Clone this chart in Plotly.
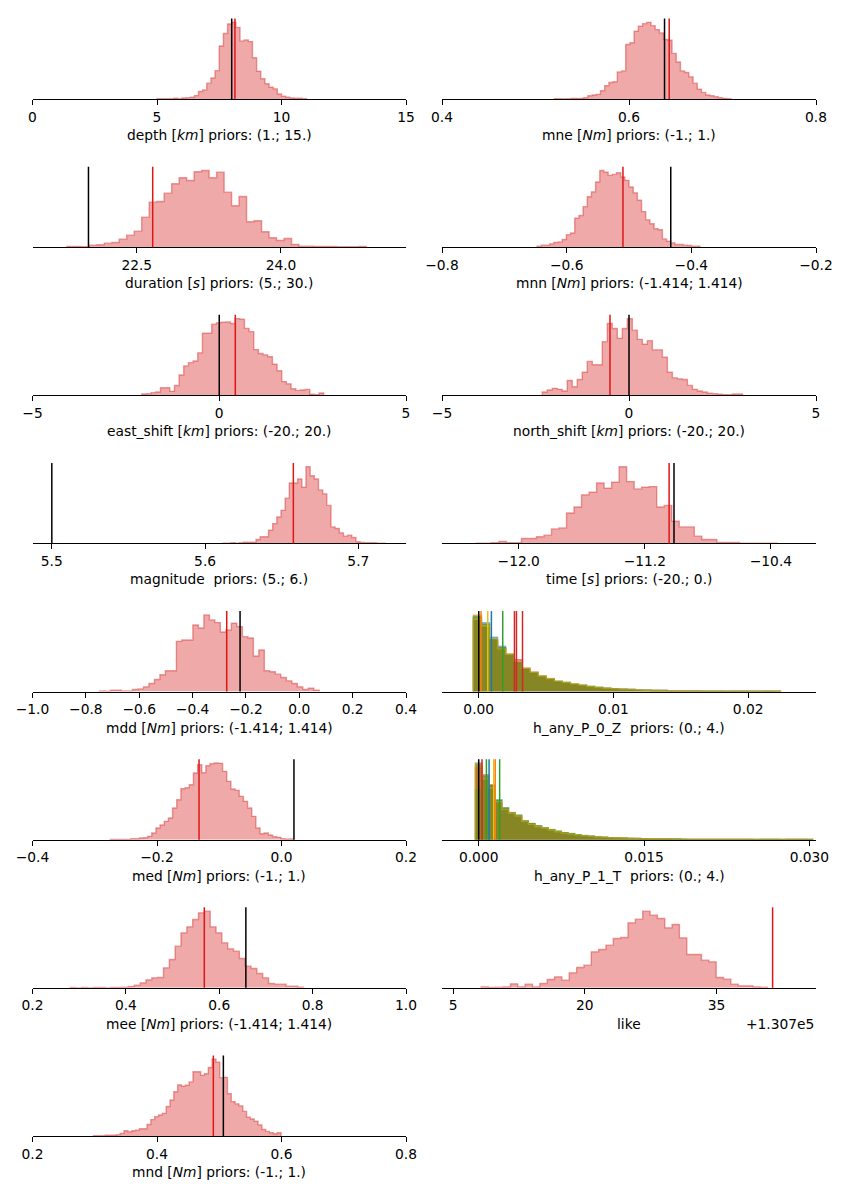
import plotly.graph_objects as go

# ------------------------------------------------------------------ data
depth_start, depth_width = 5.0, 0.1667
depth_counts = [1, 1, 1, 1, 2, 1, 3, 4, 5, 10, 22, 27, 47, 62, 84, 157, 194, 222, 227, 212,
                172, 175, 170, 122, 82, 60, 45, 35, 30, 15, 8, 5, 3, 2, 2, 1]
depth_ref, depth_best = 8.0, 8.13

mne_start, mne_width = 0.52, 0.0045
mne_counts = [1, 1, 0.5, 1, 2, 2, 2, 4, 10, 12, 14, 25, 40, 50, 52, 82, 85, 165, 170, 205, 220,
              228, 232, 222, 210, 200, 180, 178, 138, 112, 85, 80, 67, 48, 30, 20, 12, 10, 7, 4, 2, 1]
mne_ref, mne_best = 0.638, 0.643

duration_start, duration_width = 21.7726, 0.0779
duration_counts = [2, 2, 1, 6, 7, 12, 14, 24, 36, 48, 90, 135, 137, 162, 190, 208, 200, 226, 230, 208,
                   225, 165, 124, 152, 76, 79, 46, 28, 20, 26, 8, 3, 3, 2, 2, 2, 1, 1, 1, 2]
duration_ref, duration_best = 21.998, 22.666

mnn_start, mnn_width = -0.6473, 0.006696
mnn_counts = [3, 6, 6, 10, 14, 16, 23, 38, 43, 88, 96, 123, 153, 168, 198, 233, 228, 218, 221, 226,
              213, 203, 183, 165, 143, 108, 83, 71, 56, 53, 25, 18, 13, 8, 8, 6, 5, 3, 3]
mnn_ref, mnn_best = -0.433, -0.5097

east_start, east_width = -2.074, 0.1249
east_counts = [4, 5, 8, 10, 23, 23, 12, 30, 62, 90, 100, 105, 130, 190, 190, 218, 222, 224, 225, 220,
               235, 233, 205, 195, 140, 128, 124, 118, 95, 75, 42, 35, 20, 15, 16, 18, 3, 2, 7]
east_ref, east_best = 0.0, 0.43

north_start, north_width = -2.321, 0.1339
north_counts = [10, 16, 21, 18, 13, 45, 26, 48, 70, 103, 93, 93, 163, 218, 203, 173, 203, 233, 198, 170,
                155, 166, 138, 138, 116, 70, 53, 50, 48, 30, 18, 13, 10, 6, 5, 3, 2, 2, 4, 4]
north_ref, north_best = 0.0, -0.508

mag_start, mag_width = 5.6115, 0.002717
mag_counts = [1, 1, 2, 1, 2, 4, 4, 4, 12, 20, 20, 40, 60, 80, 100, 137, 183, 183, 195, 170,
              232, 205, 195, 162, 150, 115, 50, 45, 32, 22, 25, 18, 5, 3, 2, 2, 2, 1, 1]
mag_ref, mag_best = 5.5, 5.6576

time_start, time_width = -12.269, 0.04768
time_counts = [1, 1, 2, 6, 2, 2, 15, 15, 20, 25, 44, 47, 92, 110, 147, 155, 183, 167, 185, 232,
               187, 165, 170, 172, 110, 115, 67, 50, 50, 22, 12, 12, 3, 3, 3, 1, 1, 1, 1, 1]
time_ref, time_best = -11.015, -11.046

mdd_start, mdd_width = -0.749, 0.0206
mdd_counts = [2, 1, 4, 4, 2, 2, 6, 8, 14, 24, 36, 50, 62, 62, 150, 154, 154, 199, 190, 229,
              214, 206, 178, 184, 204, 194, 164, 160, 106, 124, 62, 59, 52, 42, 32, 24, 14, 6, 10, 4]
mdd_ref, mdd_best = -0.222, -0.272

med_start, med_width = -0.2753, 0.00669
med_counts = [1, 1, 1, 1, 1, 3, 3, 5, 6, 10, 20, 35, 44, 55, 65, 95, 120, 153, 156, 165,
              200, 225, 201, 222, 228, 230, 229, 205, 175, 152, 148, 130, 115, 95, 70, 35, 18, 20, 14, 9,
              7, 3, 2, 2]
med_ref, med_best = 0.020, -0.1325

mee_start, mee_width = 0.2806, 0.0125
mee_counts = [1, 0, 1, 0, 1, 1, 0, 1, 1, 2, 4, 8, 15, 24, 30, 31, 60, 85, 125, 165,
              183, 205, 225, 230, 183, 165, 135, 117, 110, 88, 65, 58, 43, 30, 13, 11, 11, 5, 5, 2]
mee_ref, mee_best = 0.657, 0.568

mnd_start, mnd_width = 0.2979, 0.00615
mnd_counts = [1, 1, 1, 2, 2, 2, 4, 8, 16, 13, 16, 18, 22, 22, 35, 50, 59, 64, 69, 90,
              110, 135, 156, 152, 155, 165, 196, 196, 185, 190, 209, 234, 225, 178, 179, 129, 105, 98, 92, 75,
              57, 52, 45, 34, 20, 14, 10, 7, 10]
mnd_ref, mnd_best = 0.5066, 0.4905

like_start, like_width = 8.194, 0.8365
like_counts = [3, 1, 2, 3, 12, 3, 11, 3, 13, 25, 33, 23, 45, 61, 68, 108, 115, 128, 148, 151,
               195, 206, 230, 218, 208, 180, 190, 150, 100, 100, 83, 78, 31, 26, 11, 6, 6, 3, 2]
like_best = 41.39
like_offset_text = "+1.307e5"

p0z_start, p0z_width = -0.0004, 0.0006
p0z_blue = [220, 205, 162, 135, 105, 85, 66, 55, 45, 37, 31, 26, 22, 18, 15, 12, 10, 8, 7, 6,
            5, 4, 3, 3, 2, 2, 2, 1, 1, 1, 1, 1, 1, 1, 0, 1, 1, 0]
p0z_red = [212, 192, 150, 130, 112, 95, 70, 58, 46, 38, 30, 27, 21, 19, 14, 12, 9, 8, 7, 6,
           4, 4, 3, 3, 2, 2, 1, 2, 1, 1, 1, 0, 1, 1, 1, 0, 1, 1]
p0z_orange = [228, 198, 152, 126, 108, 86, 68, 57, 47, 39, 29, 26, 22, 18, 15, 11, 10, 8, 6, 5,
              5, 4, 3, 2, 2, 2, 2, 1, 1, 1, 1, 1, 0, 1, 1, 1, 0, 1]
p0z_green = [224, 200, 155, 130, 110, 87, 67, 56, 45, 37, 30, 27, 22, 19, 15, 12, 10, 8, 7, 6,
             5, 4, 3, 3, 2, 2, 2, 2, 1, 1, 1, 1, 1, 1, 1, 1, 1, 1]
p0z_yellow = [215, 195, 158, 127, 111, 89, 69, 57, 46, 38, 31, 27, 23, 19, 15, 12, 10, 8, 7, 6,
              5, 4, 3, 3, 2, 2, 2, 1, 1, 1, 1, 1, 1, 1, 1, 0, 1, 0]
p0z_lines = [0.00017, 0.00067, 0.00094, 0.00178, 0.00265, 0.0028, 0.00325]
p0z_ref = 0.0

p1t_start, p1t_width = -0.0003, 0.0006
p1t_blue = [230, 180, 160, 118, 95, 78, 70, 55, 47, 40, 34, 30, 25, 20, 18, 14, 12, 10, 8, 7,
            6, 5, 5, 4, 4, 3, 2, 2, 2, 2, 2, 1, 1, 1, 1, 1, 1, 1, 1, 1, 1, 1, 1, 1, 1, 1, 1, 1, 1, 1, 1]
p1t_red = [215, 195, 165, 112, 92, 80, 73, 56, 48, 41, 35, 29, 24, 20, 17, 14, 11, 10, 8, 7,
           6, 5, 4, 4, 3, 3, 2, 2, 2, 2, 1, 1, 1, 1, 1, 1, 1, 1, 1, 1, 1, 1, 0, 1, 1, 1, 0, 1, 1, 1, 1]
p1t_orange = [225, 185, 158, 115, 93, 82, 72, 54, 48, 40, 35, 30, 25, 21, 18, 13, 12, 10, 8, 7,
              6, 5, 5, 4, 4, 3, 3, 2, 2, 2, 2, 1, 1, 1, 1, 1, 1, 1, 1, 1, 1, 1, 1, 1, 1, 1, 1, 1, 1, 1, 0]
p1t_green = [150, 190, 162, 120, 96, 81, 74, 57, 49, 42, 36, 31, 26, 21, 19, 15, 13, 11, 9, 8,
             6, 6, 5, 4, 4, 3, 2, 2, 2, 2, 2, 2, 1, 1, 1, 1, 1, 1, 1, 1, 1, 1, 1, 1, 1, 1, 1, 1, 1, 1, 1]
p1t_yellow = [228, 182, 155, 114, 91, 79, 71, 55, 46, 39, 34, 29, 24, 19, 17, 14, 12, 10, 8, 7,
              6, 5, 5, 4, 3, 3, 2, 2, 2, 2, 1, 1, 1, 1, 1, 1, 1, 1, 1, 1, 1, 1, 1, 1, 1, 1, 1, 1, 1, 1, 1]
p1t_lines = [0.0003, 0.0007, 0.00094, 0.00136, 0.0015, 0.0019]
p1t_ref = 0.0

# ------------------------------------------------------------------ style
FONT = "DejaVu Sans"
FS = 13.8
HIST_FILL = "rgba(214,39,40,0.4)"
HIST_EDGE = "rgba(214,39,40,0.45)"
RED_LINE = "rgb(222,22,22)"
C_BLUE, C_ORANGE, C_GREEN, C_RED, C_YELLOW = "#1f77b4", "#ff7f0e", "#2ca02c", "#d62728", "#e3c414"
F_OLIVE = "#8a7f10"


def rgba(hexc, a):
    h = hexc.lstrip("#")
    return "rgba(%d,%d,%d,%s)" % (int(h[0:2], 16), int(h[2:4], 16), int(h[4:6], 16), a)


def multi(blue, red, orange, green, yellow):
    return [(blue, rgba(C_BLUE, 0.5), rgba(C_BLUE, 0.45)),
            (red, rgba(C_RED, 0.5), rgba(C_RED, 0.45)),
            (orange, rgba(C_ORANGE, 0.5), rgba(C_ORANGE, 0.45)),
            (green, rgba(C_GREEN, 0.5), rgba(C_GREEN, 0.45)),
            (yellow, rgba(F_OLIVE, 0.5), rgba(C_YELLOW, 0.4))]


M = "\u2212"
panels = [
    # col, row, title, start, width, [(counts, fill, edge)], lines[(x,color)], range, tickvals, ticktext
    (0, 0, "depth [<i>km</i>] priors: (1.; 15.)", depth_start, depth_width,
     [(depth_counts, HIST_FILL, HIST_EDGE)], [(depth_ref, "black"), (depth_best, RED_LINE)],
     [0, 15], [0, 5, 10, 15], ["0", "5", "10", "15"]),
    (0, 1, "duration [<i>s</i>] priors: (5.; 30.)", duration_start, duration_width,
     [(duration_counts, HIST_FILL, HIST_EDGE)], [(duration_ref, "black"), (duration_best, RED_LINE)],
     [21.416, 25.30], [22.5, 24.0], ["22.5", "24.0"]),
    (0, 2, "east_shift [<i>km</i>] priors: (-20.; 20.)", east_start, east_width,
     [(east_counts, HIST_FILL, HIST_EDGE)], [(east_ref, "black"), (east_best, RED_LINE)],
     [-5, 5], [-5, 0, 5], [M + "5", "0", "5"]),
    (0, 3, "magnitude\u00a0 priors: (5.; 6.)", mag_start, mag_width,
     [(mag_counts, HIST_FILL, HIST_EDGE)], [(mag_ref, "black"), (mag_best, RED_LINE)],
     [5.4874, 5.7311], [5.5, 5.6, 5.7], ["5.5", "5.6", "5.7"]),
    (0, 4, "mdd [<i>Nm</i>] priors: (-1.414; 1.414)", mdd_start, mdd_width,
     [(mdd_counts, HIST_FILL, HIST_EDGE)], [(mdd_ref, "black"), (mdd_best, RED_LINE)],
     [-1.0, 0.4], [-1.0, -0.8, -0.6, -0.4, -0.2, 0.0, 0.2, 0.4],
     [M + "1.0", M + "0.8", M + "0.6", M + "0.4", M + "0.2", "0.0", "0.2", "0.4"]),
    (0, 5, "med [<i>Nm</i>] priors: (-1.; 1.)", med_start, med_width,
     [(med_counts, HIST_FILL, HIST_EDGE)], [(med_ref, "black"), (med_best, RED_LINE)],
     [-0.4, 0.2], [-0.4, -0.2, 0.0, 0.2], [M + "0.4", M + "0.2", "0.0", "0.2"]),
    (0, 6, "mee [<i>Nm</i>] priors: (-1.414; 1.414)", mee_start, mee_width,
     [(mee_counts, HIST_FILL, HIST_EDGE)], [(mee_ref, "black"), (mee_best, RED_LINE)],
     [0.2, 1.0], [0.2, 0.4, 0.6, 0.8, 1.0], ["0.2", "0.4", "0.6", "0.8", "1.0"]),
    (0, 7, "mnd [<i>Nm</i>] priors: (-1.; 1.)", mnd_start, mnd_width,
     [(mnd_counts, HIST_FILL, HIST_EDGE)], [(mnd_ref, "black"), (mnd_best, RED_LINE)],
     [0.2, 0.8], [0.2, 0.4, 0.6, 0.8], ["0.2", "0.4", "0.6", "0.8"]),
    (1, 0, "mne [<i>Nm</i>] priors: (-1.; 1.)", mne_start, mne_width,
     [(mne_counts, HIST_FILL, HIST_EDGE)], [(mne_ref, "black"), (mne_best, RED_LINE)],
     [0.4, 0.8], [0.4, 0.6, 0.8], ["0.4", "0.6", "0.8"]),
    (1, 1, "mnn [<i>Nm</i>] priors: (-1.414; 1.414)", mnn_start, mnn_width,
     [(mnn_counts, HIST_FILL, HIST_EDGE)], [(mnn_ref, "black"), (mnn_best, RED_LINE)],
     [-0.8, -0.2], [-0.8, -0.6, -0.4, -0.2], [M + "0.8", M + "0.6", M + "0.4", M + "0.2"]),
    (1, 2, "north_shift [<i>km</i>] priors: (-20.; 20.)", north_start, north_width,
     [(north_counts, HIST_FILL, HIST_EDGE)], [(north_ref, "black"), (north_best, RED_LINE)],
     [-5, 5], [-5, 0, 5], [M + "5", "0", "5"]),
    (1, 3, "time [<i>s</i>] priors: (-20.; 0.)", time_start, time_width,
     [(time_counts, HIST_FILL, HIST_EDGE)], [(time_best, RED_LINE), (time_ref, "black")],
     [-12.487, -10.114], [-12.0, -11.2, -10.4], [M + "12.0", M + "11.2", M + "10.4"]),
    (1, 4, "h_any_P_0_Z\u00a0 priors: (0.; 4.)", p0z_start, p0z_width,
     multi(p0z_blue, p0z_red, p0z_orange, p0z_green, p0z_yellow),
     [(p0z_lines[0], C_ORANGE), (p0z_lines[1], C_YELLOW), (p0z_lines[2], C_BLUE),
      (p0z_lines[3], C_GREEN), (p0z_lines[4], C_RED), (p0z_lines[5], C_RED),
      (p0z_lines[6], C_RED), (p0z_ref, "black")],
     [-0.002726, 0.02503], [0.0, 0.01, 0.02], ["0.00", "0.01", "0.02"]),
    (1, 5, "h_any_P_1_T\u00a0 priors: (0.; 4.)", p1t_start, p1t_width,
     multi(p1t_blue, p1t_red, p1t_orange, p1t_green, p1t_yellow),
     [(p1t_lines[0], C_RED), (p1t_lines[1], C_GREEN), (p1t_lines[2], C_BLUE),
      (p1t_lines[3], C_YELLOW), (p1t_lines[4], C_ORANGE), (p1t_lines[5], C_GREEN),
      (p1t_ref, "black")],
     [-0.00333, 0.0306], [0.0, 0.015, 0.030], ["0.000", "0.015", "0.030"]),
    (1, 6, "like", like_start, like_width,
     [(like_counts, HIST_FILL, HIST_EDGE)], [(like_best, RED_LINE)],
     [3.745, 46.33], [5, 20, 35], ["5", "20", "35"]),
]

# ------------------------------------------------------------------ layout geometry (pixels)
W, H = 848, 1200
COL_X = [(32.5, 406.0), (442.0, 816.0)]
BASE0, ROW_STEP, AX_H = 99.0, 148.14, 80.5

fig = go.Figure()
layout = dict(
    width=W, height=H, margin=dict(l=0, r=0, t=0, b=0, autoexpand=False),
    paper_bgcolor="white", plot_bgcolor="rgba(0,0,0,0)",
    showlegend=False, font=dict(family=FONT, size=FS, color="black"),
)
shapes, annotations = [], []

for i, (col, row, title, start, width, series, lines, xr, tv, tt) in enumerate(panels):
    n = i + 1
    xa = "x" if n == 1 else "x%d" % n
    ya = "y" if n == 1 else "y%d" % n
    base = BASE0 + ROW_STEP * row
    top = base - AX_H
    x0p, x1p = COL_X[col][0] / W, COL_X[col][1] / W
    y0p, y1p = (H - base) / H, (H - top) / H
    ymax = 0
    for counts, fillc, edgec in series:
        nb = len(counts)
        xs = [start] + [start + width * k for k in range(nb)] + [start + width * nb]
        ys = [0] + list(counts) + [0]
        ymax = max(ymax, max(counts))
        fig.add_trace(go.Scatter(
            x=xs, y=ys, mode="lines", line=dict(shape="hv", color=edgec, width=1.4),
            fill="tozeroy", fillcolor=fillc, xaxis=xa, yaxis=ya, hoverinfo="skip"))
    layout["xaxis" if n == 1 else "xaxis%d" % n] = dict(
        domain=[x0p, x1p], anchor=ya, range=xr, tickmode="array", tickvals=tv, ticktext=tt,
        showline=True, linecolor="black", linewidth=1.1, ticks="outside", ticklen=5,
        tickwidth=1.1, tickcolor="black", showgrid=False, zeroline=False, automargin=False,
        tickfont=dict(family=FONT, size=FS, color="black"), fixedrange=True)
    layout["yaxis" if n == 1 else "yaxis%d" % n] = dict(
        domain=[y0p, y1p], anchor=xa, range=[0, ymax * 1.05], visible=False,
        automargin=False, fixedrange=True)
    for xv, c in lines:
        shapes.append(dict(type="line", xref=xa, yref=ya + " domain", x0=xv, x1=xv, y0=0, y1=1,
                           line=dict(color=c, width=1.5), layer="above"))
    annotations.append(dict(
        text=title, xref="paper", yref="paper", x=(x0p + x1p) / 2, y=(H - (base + 36)) / H,
        xanchor="center", yanchor="middle", showarrow=False,
        font=dict(family=FONT, size=FS, color="black")))
    if title == "like":
        annotations.append(dict(
            text=like_offset_text, xref="paper", yref="paper", x=x1p, y=(H - (base + 36)) / H,
            xanchor="right", yanchor="middle", showarrow=False,
            font=dict(family=FONT, size=FS, color="black")))

layout["shapes"] = shapes
layout["annotations"] = annotations
fig.update_layout(**layout)
fig.write_html("out.html")
